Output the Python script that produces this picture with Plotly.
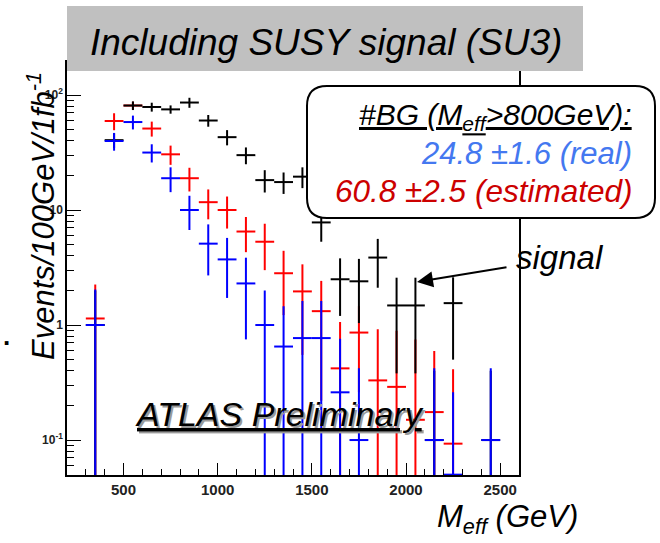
import plotly.graph_objects as go

# Bin centres of the effective-mass histogram (100 GeV bins)
meff = [350, 450, 550, 650, 750, 850, 950, 1050, 1150, 1250, 1350, 1450,
        1550, 1650, 1750, 1850, 1950, 2050, 2150, 2250, 2350, 2450]

# Real background (blue)
real_bg = [1.0, 39.8, 58.2, 31.6, 18.9, 10.0, 5.1, 3.72, 2.30, 1.0, 0.65, 0.77,
           0.77, 0.26, 0.10, None, None, None, 0.10, 0.05, None, 0.10]
real_err = [1.04, 7.0, 8.0, 5.7, 4.6, 3.3, 2.4, 2.0, 1.55, 1.0, 0.81, 0.85,
            0.85, 0.50, 0.32, None, None, None, 0.32, 0.21, None, 0.32]

# Estimated background (red)
est_bg = [1.14, 59.4, 81.0, 51.1, 30.5, 18.9, 11.7, 10.0, 6.5, 5.3, 2.82, 1.96,
          1.32, 0.42, 0.86, 0.33, 0.29, 0.15, 0.175, 0.093, None, None]
est_err = [1.11, 10.0, 6.5, 7.6, 5.8, 4.4, 3.4, 3.1, 2.2, 2.3, 1.6, 1.41,
           1.1, 0.64, 0.6, 0.59, 0.6, 0.6, 0.42, 0.32, None, None]

# Background + SUSY SU3 signal (black)
sig_bg = [1.0, 40.5, 81.0, 78.7, 75.0, 86.0, 60.0, 43.0, 30.0, 18.2, 17.5, 19.5,
          7.8, 2.5, 2.4, 3.86, 1.48, 1.48, 0.10, 1.55, None, 0.10]
sig_err = [1.0, 6.0, 7.0, 7.0, 6.2, 8.6, 7.0, 6.5, 5.0, 4.0, 3.7, 4.0,
           2.5, 1.3, 1.36, 1.75, 1.1, 1.1, 0.30, 1.05, None, 0.30]

BIN_HALF = 50

x_major = [500, 1000, 1500, 2000, 2500]
y_major = [0.1, 1, 10, 100]
y_major_text = ["10<sup>-1</sup>", "1", "10", "10<sup>2</sup>"]
y_minor = [m * 10 ** e for e in (-2, -1, 0, 1) for m in range(2, 10)]

W, H = 660, 543
L, R, T, B = 67, 141, 62, 68
FONT = "Liberation Sans, Arial, sans-serif"


def px(x):
    return (x - L) / (W - L - R)


def py(y):
    return (H - B - y) / (H - T - B)


def crosses(y, err, color):
    return go.Scatter(
        x=meff, y=y, mode="markers",
        marker=dict(size=2, color=color, opacity=0),
        error_x=dict(type="constant", value=BIN_HALF, width=0,
                     thickness=2, color=color),
        error_y=dict(type="data", array=err, width=0,
                     thickness=2, color=color),
        showlegend=False, hoverinfo="skip",
    )


fig = go.Figure()
fig.add_trace(crosses(est_bg, est_err, "#ff0000"))
fig.add_trace(crosses(sig_bg, sig_err, "#000000"))
fig.add_trace(crosses(real_bg, real_err, "#0000ff"))

fig.update_xaxes(
    range=[200, 2600], showgrid=False, zeroline=False,
    showline=True, linecolor="black", linewidth=1.5, mirror=True,
    tickmode="array", tickvals=x_major, ticks="inside", ticklen=12,
    tickcolor="black", tickwidth=1.3,
    minor=dict(dtick=100, tick0=0, ticks="inside", ticklen=6,
               tickcolor="black", tickwidth=1.3),
    tickfont=dict(family=FONT, size=15, color="#222222", weight="bold"),
)
fig.update_yaxes(
    type="log", range=[-1.304, 2.287], showgrid=False, zeroline=False,
    showline=True, linecolor="black", linewidth=1.5, mirror=True,
    tickmode="array", tickvals=y_major, ticktext=y_major_text,
    ticks="inside", ticklen=14, tickcolor="black", tickwidth=1.3,
    minor=dict(tickmode="array", tickvals=y_minor, ticks="inside",
               ticklen=7, tickcolor="black", tickwidth=1.3),
    tickfont=dict(family=FONT, size=12, color="#222222", weight="bold"),
)

# Legend box with rounded corners
x0, x1 = px(307), px(655)
yt, yb = py(86), py(218)
rx, ry = 20 / (W - L - R), 20 / (H - T - B)
legend_path = (
    f"M {x0 + rx},{yt} L {x1 - rx},{yt} Q {x1},{yt} {x1},{yt - ry} "
    f"L {x1},{yb + ry} Q {x1},{yb} {x1 - rx},{yb} "
    f"L {x0 + rx},{yb} Q {x0},{yb} {x0},{yb + ry} "
    f"L {x0},{yt - ry} Q {x0},{yt} {x0 + rx},{yt} Z"
)

shapes = [
    dict(type="rect", xref="paper", yref="paper",
         x0=px(67), x1=px(583), y0=py(71), y1=py(6),
         fillcolor="#c0c0c0", line=dict(width=0), layer="above"),
    dict(type="path", xref="paper", yref="paper", path=legend_path,
         fillcolor="white", line=dict(color="black", width=2), layer="above"),
]

annotations = [
    dict(text="<i>Including SUSY signal (SU3)</i>", x=px(326), y=py(43),
         font=dict(family=FONT, size=37, color="black")),
    dict(text="<i><u>#BG (M<sub>eff</sub>>800GeV):</u></i>", x=px(634), y=py(117),
         xanchor="right", font=dict(family=FONT, size=30, color="black")),
    dict(text="<i>24.8 \u00b11.6 (real)</i>", x=px(634), y=py(153),
         xanchor="right", font=dict(family=FONT, size=31, color="#4478f0")),
    dict(text="<i>60.8 \u00b12.5 (estimated)</i>", x=px(634), y=py(191),
         xanchor="right", font=dict(family=FONT, size=31.5, color="#cc0000")),
    dict(text="<i>signal</i>", x=px(514), y=py(257), xanchor="left",
         font=dict(family=FONT, size=33, color="black")),
    # arrow pointing from the "signal" label to the signal excess
    dict(text="", x=px(417), y=py(282), showarrow=True,
         axref="pixel", ayref="pixel", ax=91, ay=-15,
         arrowhead=2, arrowsize=1.6, arrowwidth=2,
         arrowcolor="black", standoff=0),
    dict(text="<i><u>ATLAS Preliminary</u></i>", x=px(133), y=py(414),
         xanchor="left", xshift=1.5, yshift=-1.5,
         font=dict(family=FONT, size=34, color="#9a9a9a")),
    dict(text="<i><u>ATLAS Preliminary</u></i>", x=px(133), y=py(414),
         xanchor="left", font=dict(family=FONT, size=34, color="black")),
    dict(text="<i>Events/100GeV/1fb<sup>-1</sup></i>", x=px(41), y=py(216),
         textangle=-90, font=dict(family=FONT, size=31, color="black")),
    dict(text="<i>M<sub>eff</sub> (GeV)</i>", x=px(507), y=py(519),
         font=dict(family=FONT, size=31, color="black")),
    dict(text="<b>.</b>", x=px(7), y=py(336),
         font=dict(family=FONT, size=26, color="black")),
]
for a in annotations:
    a.setdefault("xref", "paper")
    a.setdefault("yref", "paper")
    a.setdefault("showarrow", False)
    a.setdefault("xanchor", "center")
    a.setdefault("yanchor", "middle")

fig.update_layout(
    width=W, height=H,
    margin=dict(l=L, r=R, t=T, b=B),
    paper_bgcolor="white", plot_bgcolor="white",
    shapes=shapes, annotations=annotations,
    showlegend=False,
)

fig.write_html("out.html")
